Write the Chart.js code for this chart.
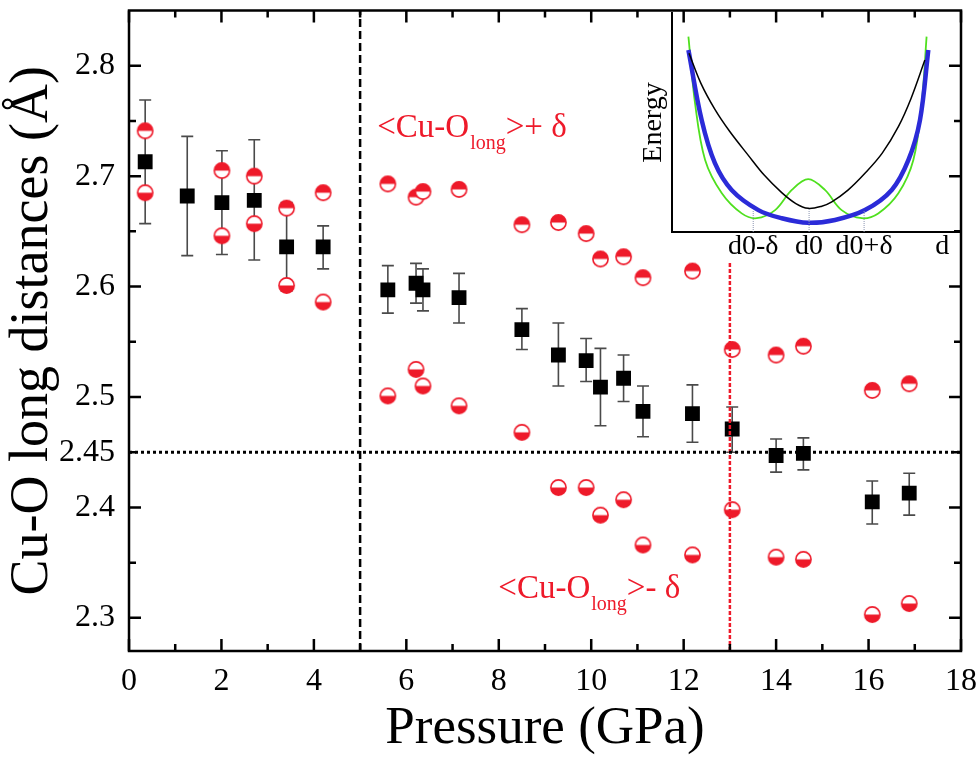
<!DOCTYPE html>
<html>
<head>
<meta charset="utf-8">
<script src="https://cdn.jsdelivr.net/npm/chart.js@4.4.1/dist/chart.umd.min.js"></script>
<style>
  html, body { margin: 0; padding: 0; background: #fff; }
  #wrap { position: relative; width: 980px; height: 764px; }
  #main { position: absolute; left: 0; top: 0; }
  #inset { position: absolute; left: 640px; top: 0; }
</style>
</head>
<body>
<div id="wrap">
  <canvas id="main" width="980" height="764"></canvas>
  <canvas id="inset" width="340" height="264"></canvas>
</div>
<script>
// Mean Cu-O long distance vs pressure, with error bars
const pressure = [0.35, 1.26, 2.01, 2.71, 3.41, 4.2, 5.6, 6.21, 6.36, 7.14, 8.5, 9.29, 9.89, 10.2, 10.7, 11.12, 12.19, 13.05, 14.0, 14.59, 16.08, 16.88];
const meanLong = [2.713, 2.682, 2.676, 2.678, 2.636, 2.636, 2.597, 2.603, 2.597, 2.590, 2.561, 2.538, 2.533, 2.509, 2.517, 2.487, 2.485, 2.471, 2.447, 2.449, 2.405, 2.413];
const errHigh = [2.769, 2.736, 2.723, 2.733, 2.676, 2.655, 2.619, 2.621, 2.616, 2.612, 2.580, 2.567, 2.553, 2.544, 2.538, 2.510, 2.511, 2.491, 2.462, 2.463, 2.424, 2.431];
const errLow = [2.657, 2.628, 2.629, 2.624, 2.596, 2.616, 2.576, 2.585, 2.578, 2.567, 2.543, 2.510, 2.514, 2.474, 2.496, 2.464, 2.459, 2.450, 2.432, 2.434, 2.385, 2.393];

// <Cu-O_long> + delta and - delta (no pair at 1.26 GPa)
const deltaPressure = [0.35, 2.01, 2.71, 3.41, 4.2, 5.6, 6.21, 6.36, 7.14, 8.5, 9.29, 9.89, 10.2, 10.7, 11.12, 12.19, 13.05, 14.0, 14.59, 16.08, 16.88];
const plusDelta = [2.741, 2.705, 2.700, 2.671, 2.685, 2.693, 2.681, 2.686, 2.688, 2.656, 2.658, 2.648, 2.625, 2.627, 2.608, 2.614, 2.543, 2.538, 2.546, 2.506, 2.512];
const minusDelta = [2.685, 2.646, 2.657, 2.601, 2.586, 2.501, 2.525, 2.510, 2.492, 2.468, 2.418, 2.418, 2.393, 2.407, 2.366, 2.357, 2.398, 2.355, 2.353, 2.303, 2.313];

// reference lines
const transitionP = 5;
const secondP = 13;
const secondTop = 2.622;
const thresholdD = 2.45;

// axes
const xRange = [0, 18];
const yRange = [2.27, 2.85];
const xMajorTicks = [0, 2, 4, 6, 8, 10, 12, 14, 16, 18];
const xMinorTicks = [1, 3, 5, 7, 9, 11, 13, 15, 17];
const yMajorTicks = [2.3, 2.4, 2.5, 2.6, 2.7, 2.8];
const yMinorTicks = [2.35, 2.45, 2.55, 2.65, 2.75];
const yTickLabels = [2.3, 2.4, 2.45, 2.5, 2.6, 2.7, 2.8];

// inset: energy curves (arbitrary units)
const quadD = [5.9, 10, 14.9, 20, 26.5, 32, 38.1, 43, 47.3, 52, 55.5, 61, 67, 73, 78.6, 83, 87.8];
const quadE = [81.6, 68, 56, 46, 35, 26, 18, 13, 10.8, 11.8, 13.8, 19, 26.8, 36, 48.1, 61, 78.5];
const flatD = [5.7, 10.3, 14.9, 20.7, 30, 38.1, 47.3, 56.6, 67, 76.3, 82.1, 86.1, 89];
const flatE = [83.1, 51.1, 31.4, 19.2, 10, 6.3, 4.2, 5.5, 10, 19.2, 32.9, 51.1, 83.1];
const wellD = [5.7, 8, 11.5, 17.3, 24.2, 29.4, 35.8, 41.6, 47.3, 53.1, 58.9, 65.9, 71.6, 78.6, 83.8, 86.7, 88.4];
const wellE = [89.2, 58.8, 32.9, 17.7, 8.5, 6.3, 10, 19.2, 24.1, 19.2, 10, 6.3, 8.5, 17.7, 32.9, 58.8, 89.2];
const insetTickD = [28.2, 47.6, 66.7, 93.8];
const insetTickLabels = ['d0-δ', 'd0', 'd0+δ', 'd'];
const guideTop = [10, 11, 10];

const RED = '#ee1a2a';
const SERIF = '"Liberation Serif", "Times New Roman", serif';

const pts = (xs, ys) => xs.map((x, i) => ({ x, y: ys[i] }));
const noPad = (s) => { s.paddingLeft = 0; s.paddingRight = 0; s.paddingTop = 0; s.paddingBottom = 0; };

function halfDisc(filledTop) {
  const c = document.createElement('canvas');
  c.width = 19; c.height = 19;
  const g = c.getContext('2d');
  const r = 7.6;
  g.fillStyle = '#fff';
  g.beginPath(); g.arc(9.5, 9.5, r, 0, 2 * Math.PI); g.fill();
  g.fillStyle = RED;
  g.beginPath();
  if (filledTop) g.arc(9.5, 9.5, r, Math.PI, 2 * Math.PI);
  else g.arc(9.5, 9.5, r, 0, Math.PI);
  g.closePath(); g.fill();
  g.strokeStyle = RED; g.lineWidth = 1.6;
  g.beginPath(); g.arc(9.5, 9.5, r, 0, 2 * Math.PI); g.stroke();
  return c;
}

const errorBars = {
  id: 'errorBars',
  beforeDatasetsDraw(chart) {
    const { ctx, scales: { x, y } } = chart;
    ctx.save();
    ctx.strokeStyle = '#4a4a4a';
    ctx.lineWidth = 1.6;
    pressure.forEach((p, i) => {
      const px = x.getPixelForValue(p);
      const hi = y.getPixelForValue(errHigh[i]);
      const lo = y.getPixelForValue(errLow[i]);
      ctx.beginPath();
      ctx.moveTo(px, hi); ctx.lineTo(px, lo);
      ctx.moveTo(px - 6, hi); ctx.lineTo(px + 6, hi);
      ctx.moveTo(px - 6, lo); ctx.lineTo(px + 6, lo);
      ctx.stroke();
    });
    ctx.restore();
  },
};

const frameTicks = {
  id: 'frameTicks',
  afterDraw(chart) {
    const { ctx, chartArea: a, scales: { x, y } } = chart;
    ctx.save();
    ctx.strokeStyle = '#000';
    ctx.lineWidth = 2.5;
    ctx.strokeRect(a.left, a.top, a.right - a.left, a.bottom - a.top);
    ctx.beginPath();
    const xt = (v, len) => {
      const px = x.getPixelForValue(v);
      ctx.moveTo(px, a.bottom); ctx.lineTo(px, a.bottom - len);
      ctx.moveTo(px, a.top); ctx.lineTo(px, a.top + len);
    };
    const yt = (v, len) => {
      const py = y.getPixelForValue(v);
      ctx.moveTo(a.left, py); ctx.lineTo(a.left + len, py);
      ctx.moveTo(a.right, py); ctx.lineTo(a.right - len, py);
    };
    xMajorTicks.forEach((v) => xt(v, 12));
    xMinorTicks.forEach((v) => xt(v, 7));
    yMajorTicks.forEach((v) => yt(v, 12));
    yMinorTicks.forEach((v) => yt(v, 7));
    ctx.stroke();
    ctx.restore();
  },
};

function drawLabel(ctx, px, py, main, sub, tail) {
  ctx.font = `33px ${SERIF}`;
  ctx.fillText(main, px, py);
  let w = ctx.measureText(main).width;
  ctx.font = `20px ${SERIF}`;
  ctx.fillText(sub, px + w + 1, py + 12);
  w += ctx.measureText(sub).width + 1;
  ctx.font = `33px ${SERIF}`;
  ctx.fillText(tail, px + w, py);
}

const annotations = {
  id: 'annotations',
  afterDatasetsDraw(chart) {
    const { ctx, scales: { x, y } } = chart;
    ctx.save();
    ctx.fillStyle = RED;
    ctx.textBaseline = 'alphabetic';
    drawLabel(ctx, x.getPixelForValue(5.37), y.getPixelForValue(2.735), '<Cu-O', 'long', '>+ δ');
    drawLabel(ctx, x.getPixelForValue(7.99), y.getPixelForValue(2.318), '<Cu-O', 'long', '>- δ');
    ctx.restore();
  },
};

new Chart(document.getElementById('main'), {
  type: 'scatter',
  data: {
    datasets: [
      {
        label: 'threshold',
        data: [{ x: xRange[0], y: thresholdD }, { x: xRange[1], y: thresholdD }],
        showLine: true, borderColor: '#000', borderWidth: 3, borderDash: [3, 3], pointRadius: 0,
      },
      {
        label: 'transition',
        data: [{ x: transitionP, y: yRange[0] }, { x: transitionP, y: yRange[1] }],
        showLine: true, borderColor: '#000', borderWidth: 2.5, borderDash: [8, 4], pointRadius: 0,
      },
      {
        label: 'second',
        data: [{ x: secondP, y: yRange[0] }, { x: secondP, y: secondTop }],
        showLine: true, borderColor: RED, borderWidth: 2.5, borderDash: [4, 2], pointRadius: 0,
      },
      {
        label: '+delta',
        data: pts(deltaPressure, plusDelta),
        pointStyle: halfDisc(true),
      },
      {
        label: '-delta',
        data: pts(deltaPressure, minusDelta),
        pointStyle: halfDisc(false),
      },
      {
        label: 'mean',
        data: pts(pressure, meanLong),
        pointStyle: 'rect', pointRadius: 10.5, backgroundColor: '#000', borderColor: '#000', borderWidth: 0,
      },
    ],
  },
  options: {
    responsive: false, animation: false, devicePixelRatio: 1,
    layout: { padding: { top: 4, right: 19, left: 0, bottom: 0 } },
    plugins: { legend: { display: false }, tooltip: { enabled: false } },
    scales: {
      x: {
        type: 'linear', min: xRange[0], max: xRange[1],
        grid: { display: false, drawTicks: false },
        border: { display: false },
        ticks: { stepSize: 2, padding: 11, color: '#000', font: { family: SERIF, size: 32 }, maxRotation: 0 },
        title: { display: true, text: 'Pressure (GPa)', color: '#000', font: { family: SERIF, size: 53 }, padding: { top: 0, bottom: 3 } },
        afterFit: (s) => { s.height = 113; noPad(s); },
      },
      y: {
        type: 'linear', min: yRange[0], max: yRange[1],
        grid: { display: false, drawTicks: false },
        border: { display: false },
        afterBuildTicks: (s) => { s.ticks = yTickLabels.map((v) => ({ value: v })); },
        ticks: { padding: 14, color: '#000', font: { family: SERIF, size: 32 }, callback: (v) => String(v) },
        title: { display: true, text: 'Cu-O long distances (Å)', color: '#000', font: { family: SERIF, size: 54 }, padding: 0 },
        afterFit: (s) => { s.width = 129; noPad(s); },
      },
    },
  },
  plugins: [errorBars, annotations, frameTicks],
});

// inset sketch of the energy profiles
const guides = insetTickD.slice(0, 3).map((d, i) => ({
  data: [{ x: d, y: 0 }, { x: d, y: guideTop[i] }],
  showLine: true, borderColor: '#8a94b0', borderWidth: 1, borderDash: [1, 1], pointRadius: 0,
}));

new Chart(document.getElementById('inset'), {
  type: 'scatter',
  data: {
    datasets: [
      ...guides,
      { data: pts(quadD, quadE), showLine: true, borderColor: '#000', borderWidth: 1.5, pointRadius: 0, tension: 0.35 },
      { data: pts(flatD, flatE), showLine: true, borderColor: '#2b2bd8', borderWidth: 4.5, pointRadius: 0, tension: 0.35 },
      { data: pts(wellD, wellE), showLine: true, borderColor: '#4fe01e', borderWidth: 1.8, pointRadius: 0, tension: 0.35 },
    ],
  },
  options: {
    responsive: false, animation: false, devicePixelRatio: 1,
    layout: { padding: { top: 13, right: 20, left: 0, bottom: 0 } },
    plugins: { legend: { display: false }, tooltip: { enabled: false } },
    scales: {
      x: {
        type: 'linear', min: 0, max: 100,
        grid: { display: false, drawTicks: false },
        border: { display: true, color: '#000', width: 2 },
        afterBuildTicks: (s) => { s.ticks = insetTickD.map((v) => ({ value: v })); },
        ticks: {
          autoSkip: false, maxRotation: 0, padding: 1, color: '#000',
          font: { family: SERIF, size: 28, lineHeight: 1 },
          callback: (v, i) => insetTickLabels[i],
        },
        afterFit: (s) => { s.height = 32; noPad(s); },
      },
      y: {
        type: 'linear', min: 0, max: 100,
        grid: { display: false, drawTicks: false },
        border: { display: true, color: '#000', width: 2 },
        ticks: { display: false },
        title: { display: true, text: 'Energy', color: '#000', font: { family: SERIF, size: 28, lineHeight: 1 }, padding: 0 },
        afterFit: (s) => { s.width = 32; noPad(s); },
      },
    },
  },
});
</script>
</body>
</html>
